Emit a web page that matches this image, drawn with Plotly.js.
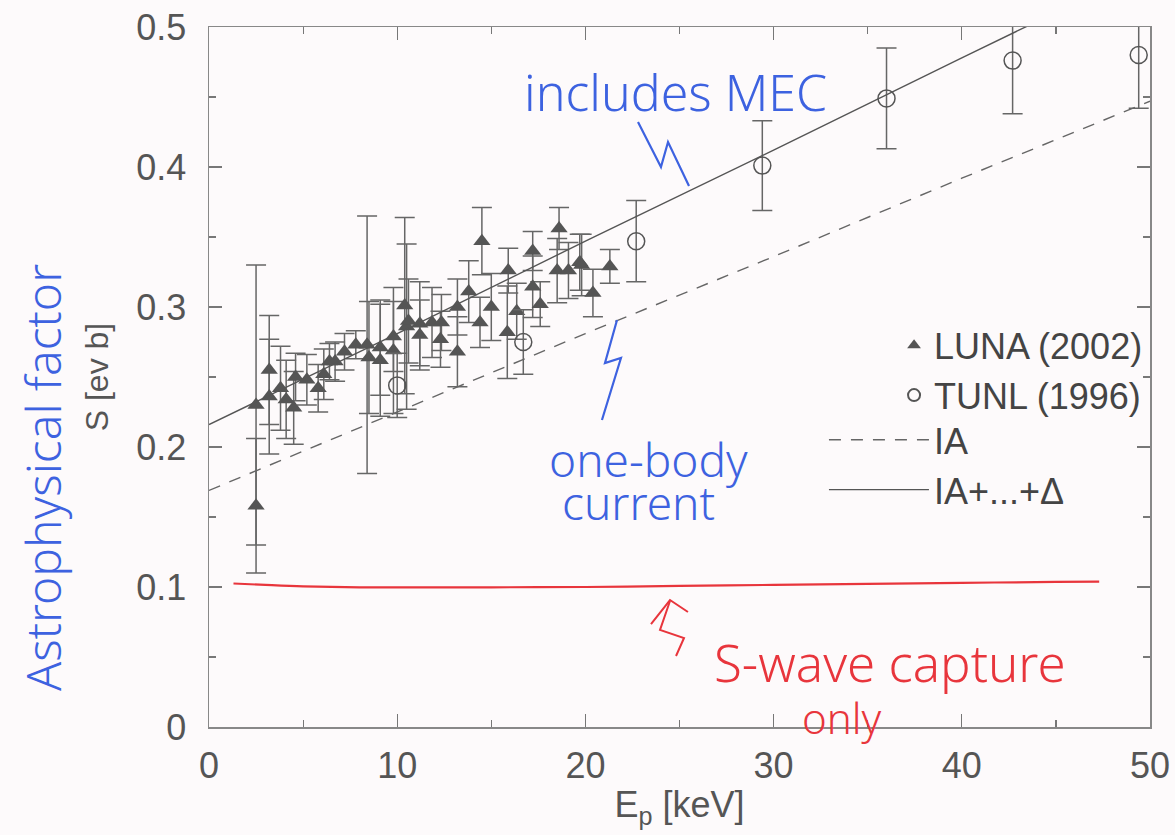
<!DOCTYPE html>
<html>
<head>
<meta charset="utf-8">
<script src="https://cdn.plot.ly/plotly-3.0.1.min.js"></script>
<style>html,body{margin:0;padding:0;background:#fdfafb;}</style>
</head>
<body>
<div id="chart" style="width:1175px;height:835px;"></div>
<script>
// LUNA (2002) data
const lunaE = [2.5,2.5,3.2,3.2,3.8,4.1,4.5,4.6,5.2,5.8,6.1,6.4,6.7,7.2,7.8,8.4,8.5,9.1,9.1,9.8,9.8,10.4,10.5,10.6,11.2,11.2,11.85,12.35,12.3,13.2,13.2,13.8,14.4,14.5,15.0,15.85,15.9,16.35,17.2,17.2,17.6,18.5,18.6,19.1,19.7,19.8,20.4,21.3];
const lunaS = [0.230,0.158,0.255,0.236,0.242,0.234,0.228,0.250,0.248,0.242,0.252,0.261,0.261,0.268,0.273,0.273,0.264,0.271,0.262,0.269,0.279,0.301,0.286,0.290,0.288,0.280,0.289,0.289,0.277,0.300,0.268,0.311,0.289,0.347,0.300,0.282,0.326,0.297,0.340,0.3145,0.302,0.326,0.356,0.326,0.332,0.330,0.310,0.329];
const lunaErr = [0.100,0.048,0.039,0.041,0.030,0.028,0.026,0.017,0.018,0.017,0.018,0.013,0.014,0.013,0.010,0.092,0.040,0.034,0.040,0.045,0.025,0.063,0.059,0.030,0.030,0.025,0.025,0.020,0.020,0.020,0.025,0.022,0.018,0.024,0.024,0.033,0.016,0.020,0.014,0.022,0.016,0.023,0.015,0.020,0.020,0.022,0.017,0.012];

// TUNL (1996) data
const tunlE = [10.0,16.7,22.7,29.4,36.0,42.7,49.4];
const tunlS = [0.244,0.275,0.347,0.401,0.449,0.476,0.480];
const tunlErr = [0.023,0.023,0.029,0.032,0.036,0.038,0.038];

// IA (dashed) calculation
const iaE = [0,10,20,30,40,50];
const iaS = [0.169,0.225,0.281,0.336,0.392,0.447];

// IA+...+Delta (solid) calculation
const fullE = [0,10,20,30,40,50];
const fullS = [0.216,0.281,0.347,0.412,0.478,0.543];

// hand-drawn red S-wave line
const swaveE = [1.3,3,5,8,10,15,20,25,30,35,40,45,47.3];
const swaveS = [0.1025,0.1015,0.1005,0.0998,0.0998,0.0998,0.1,0.1008,0.1015,0.1022,0.103,0.1036,0.1038];

const gray = '#555';
const sans = 'Liberation Sans, Arial, sans-serif';
const tickFont = {family:sans, size:36, color:'#555'};
const blue = '#3d62e0';
const red = '#e8353c';
const hand = 'Noto Sans, DejaVu Sans, sans-serif';

const traces = [
  {x:lunaE, y:lunaS, type:'scatter', mode:'markers', name:'LUNA (2002)', legend:'legend2',
   marker:{symbol:'triangle-up', size:15, color:gray},
   error_y:{type:'data', array:lunaErr, visible:true, color:'#666', thickness:1.5, width:10}},
  {x:tunlE, y:tunlS, type:'scatter', mode:'markers', name:'TUNL (1996)', legend:'legend2',
   marker:{symbol:'circle-open', size:17, color:gray, line:{width:1.5, color:gray}},
   error_y:{type:'data', array:tunlErr, visible:true, color:'#666', thickness:1.5, width:10}},
  {x:iaE, y:iaS, type:'scatter', mode:'lines', name:'IA', legend:'legend',
   line:{color:'#666', width:1.4, dash:'12px,10px'}},
  {x:fullE, y:fullS, type:'scatter', mode:'lines', name:'IA+...+Δ', legend:'legend',
   line:{color:'#555', width:1.4}},
  {x:swaveE, y:swaveS, type:'scatter', mode:'lines', showlegend:false, hoverinfo:'skip',
   line:{color:red, width:2.2, shape:'spline'}}
];

// helpers to place hand-drawn annotation strokes (pixel -> paper)
const L = 209, T = 27, W = 941, H = 700;
const px = v => (v - L) / W;
const py = v => (T + H - v) / H;
function pathOf(pts){ return pts.map((p,i)=>(i?'L':'M')+px(p[0]).toFixed(4)+','+py(p[1]).toFixed(4)).join(' '); }

const shapes = [
  {type:'path', xref:'paper', yref:'paper', path:pathOf([[638,122],[661,167],[668,142],[689,186]]), line:{color:blue, width:2.2}},
  {type:'path', xref:'paper', yref:'paper', path:pathOf([[617,320],[605,363],[621,358],[602,420]]), line:{color:blue, width:2.2}},
  {type:'path', xref:'paper', yref:'paper', path:pathOf([[651,624],[670,600],[688,612]]), line:{color:red, width:2}},
  {type:'path', xref:'paper', yref:'paper', path:pathOf([[670,601],[660,630],[684,638],[676,656]]), line:{color:red, width:2}}
];

function ann(x, y, text, size, color, extra){
  return Object.assign({xref:'paper', yref:'paper', x:px(x), y:py(y), xanchor:'center', yanchor:'middle',
    text:text, showarrow:false, font:{family:hand, size:size, color:color, weight:300}}, extra||{});
}
const annotations = [
  ann(675, 92, 'includes MEC', 50, blue),
  ann(648, 459, 'one-body', 46, blue),
  ann(638, 502, 'current', 46, blue),
  ann(890, 662, 'S-wave capture', 51, red),
  ann(842, 717, 'only', 42, red),
  ann(42, 478, 'Astrophysical factor', 48, blue, {textangle:-90})
];

const axisCommon = {
  ticks:'inside', ticklen:13, tickwidth:1.2, tickcolor:'#777', mirror:'ticks',
  showline:true, linecolor:'#888', linewidth:1.5, showgrid:false, zeroline:false,
  tickfont:tickFont
};

const layout = {
  width:1175, height:835,
  paper_bgcolor:'#fdfafb', plot_bgcolor:'#fdfafb',
  margin:{l:209, r:25, t:27, b:108},
  showlegend:true,
  xaxis:Object.assign({}, axisCommon, {
    range:[0,50], dtick:10, tick0:0,
    minor:{dtick:5, ticks:'inside', ticklen:7, tickcolor:'#777', showgrid:false},
    ticklabelstandoff:6,
    title:{text:'E<sub>p</sub> [keV]', font:{family:sans, size:36, color:'#555'}, standoff:7}
  }),
  yaxis:Object.assign({}, axisCommon, {
    range:[0,0.5], dtick:0.1, tick0:0,
    minor:{dtick:0.05, ticks:'inside', ticklen:7, tickcolor:'#777', showgrid:false},
    ticklabelstandoff:14,
    title:{text:'S [ev b]', font:{family:sans, size:32, color:'#555'}, standoff:18}
  }),
  legend:{x:0.6535, y:0.453, xanchor:'left', yanchor:'top', bgcolor:'rgba(0,0,0,0)',
    font:{family:sans, size:36, color:'#444'},
    itemwidth:100, traceorder:'normal'},
  legend2:{x:0.728, y:0.588, xanchor:'left', yanchor:'top', bgcolor:'rgba(0,0,0,0)',
    font:{family:sans, size:36, color:'#444'},
    itemwidth:30, itemsizing:'constant', traceorder:'normal'},
  shapes:shapes,
  annotations:annotations
};

Plotly.newPlot('chart', traces, layout, {displayModeBar:false, staticPlot:true});
</script>
</body>
</html>
